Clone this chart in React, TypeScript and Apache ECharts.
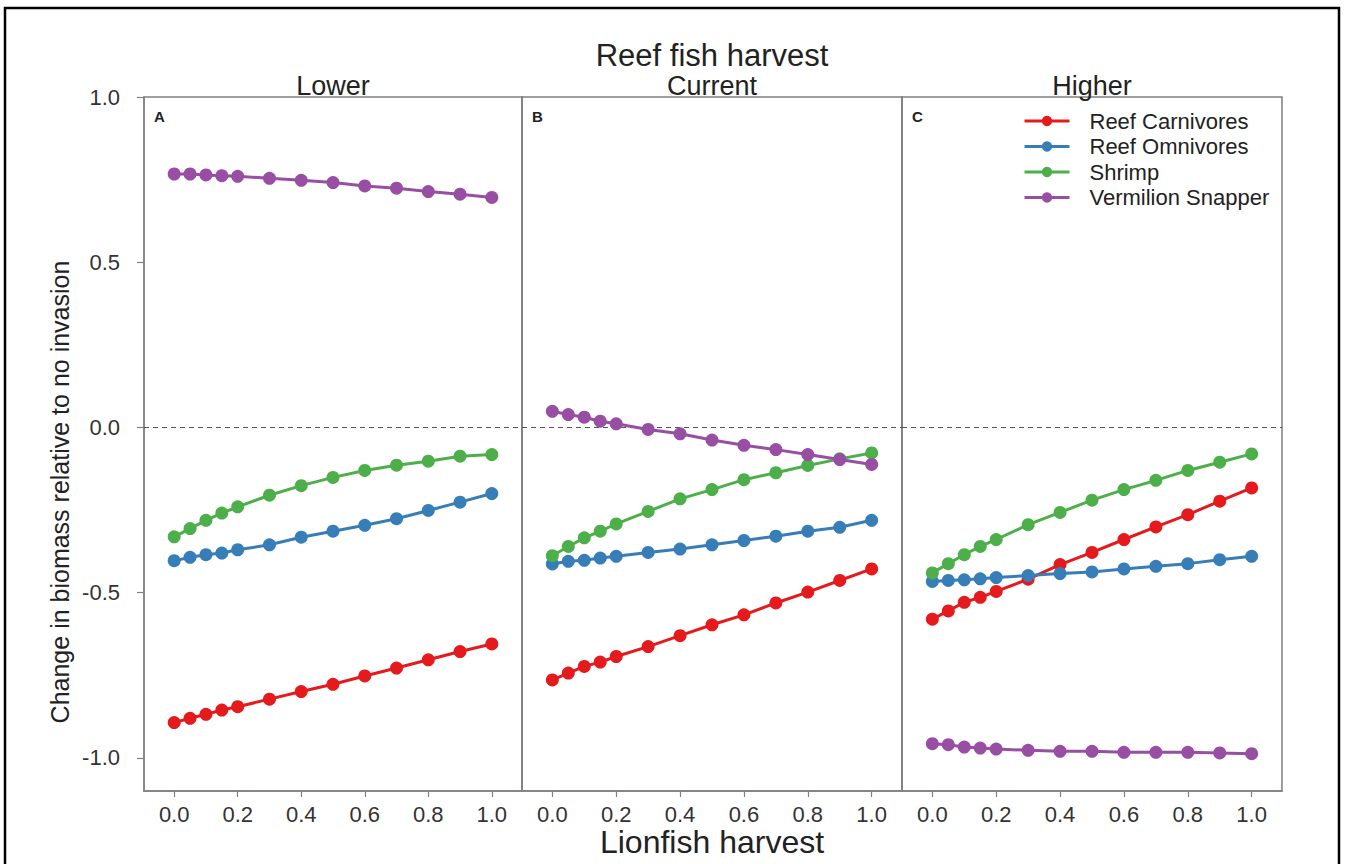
import { useEffect, useRef } from "react";
import * as echarts from "echarts";

const lionfishHarvest = [0, 0.05, 0.1, 0.15, 0.2, 0.3, 0.4, 0.5, 0.6, 0.7, 0.8, 0.9, 1.0];
const xTicks = [0, 0.2, 0.4, 0.6, 0.8, 1.0];
const yTicks = [-1.0, -0.5, 0.0, 0.5, 1.0];

const speciesNames = ["Reef Carnivores", "Reef Omnivores", "Shrimp", "Vermilion Snapper"];
const speciesColors = ["#E41A1C", "#377EB8", "#4DAF4A", "#984EA3"];
const panelTitles = ["Lower", "Current", "Higher"];
const panelLetters = ["A", "B", "C"];

// Panel A: lower reef fish harvest
const carnivoresLower = [-0.893, -0.88, -0.868, -0.855, -0.845, -0.822, -0.799, -0.777, -0.752, -0.728, -0.703, -0.678, -0.655];
const omnivoresLower = [-0.403, -0.393, -0.385, -0.38, -0.37, -0.355, -0.332, -0.314, -0.296, -0.276, -0.251, -0.226, -0.2];
const shrimpLower = [-0.331, -0.306, -0.281, -0.259, -0.24, -0.205, -0.176, -0.151, -0.13, -0.114, -0.102, -0.087, -0.082];
const snapperLower = [0.767, 0.767, 0.764, 0.762, 0.76, 0.754, 0.748, 0.741, 0.731, 0.724, 0.714, 0.706, 0.696];

// Panel B: current reef fish harvest
const carnivoresCurrent = [-0.764, -0.743, -0.723, -0.71, -0.693, -0.663, -0.63, -0.597, -0.567, -0.531, -0.498, -0.463, -0.428];
const omnivoresCurrent = [-0.413, -0.405, -0.402, -0.395, -0.39, -0.378, -0.368, -0.355, -0.342, -0.329, -0.314, -0.302, -0.281];
const shrimpCurrent = [-0.388, -0.36, -0.334, -0.314, -0.292, -0.254, -0.216, -0.188, -0.158, -0.137, -0.115, -0.095, -0.077];
const snapperCurrent = [0.049, 0.039, 0.031, 0.019, 0.011, -0.006, -0.019, -0.038, -0.054, -0.067, -0.082, -0.097, -0.112];

// Panel C: higher reef fish harvest
const carnivoresHigher = [-0.58, -0.555, -0.529, -0.514, -0.496, -0.459, -0.415, -0.378, -0.339, -0.301, -0.264, -0.223, -0.183];
const omnivoresHigher = [-0.466, -0.463, -0.461, -0.458, -0.454, -0.448, -0.442, -0.437, -0.428, -0.42, -0.412, -0.4, -0.39];
const shrimpHigher = [-0.44, -0.412, -0.385, -0.36, -0.339, -0.294, -0.257, -0.22, -0.188, -0.16, -0.13, -0.105, -0.08];
const snapperHigher = [-0.957, -0.96, -0.967, -0.97, -0.973, -0.977, -0.98, -0.98, -0.983, -0.983, -0.983, -0.985, -0.987];

const panels = [
  [carnivoresLower, omnivoresLower, shrimpLower, snapperLower],
  [carnivoresCurrent, omnivoresCurrent, shrimpCurrent, snapperCurrent],
  [carnivoresHigher, omnivoresHigher, shrimpHigher, snapperHigher],
];

const FONT = "Liberation Sans, Arial, sans-serif";
const AXIS_GRAY = "#808080";
const TEXT = "#222";

export default function App() {
  const ref = useRef<HTMLDivElement>(null);

  useEffect(() => {
    if (!ref.current) return;
    const chart = echarts.init(ref.current, null, { renderer: "svg" });

    const gridBoxes = [
      { left: 144, width: 378 },
      { left: 522, width: 380 },
      { left: 902, width: 380 },
    ];
    const top = 97;
    const height = 694;

    const grid = gridBoxes.map((g) => ({
      left: g.left,
      width: g.width,
      top,
      height,
      show: true,
      borderColor: AXIS_GRAY,
      borderWidth: 1.5,
      backgroundColor: "transparent",
      outerBoundsMode: "none",
      containLabel: false,
    }));

    const xAxis = gridBoxes.map((_, i) => ({
      type: "value",
      gridIndex: i,
      min: -0.095,
      max: 1.095,
      splitLine: { show: false },
      axisLine: { show: true, onZero: false, lineStyle: { color: AXIS_GRAY, width: 1.5 } },
      axisTick: { show: true, length: 6, customValues: xTicks, lineStyle: { color: AXIS_GRAY, width: 1.2 } },
      axisLabel: {
        customValues: xTicks,
        formatter: (v: number) => v.toFixed(1),
        fontSize: 22,
        color: "#333",
        margin: 12,
        fontFamily: FONT,
      },
    }));

    const yAxis = gridBoxes.map((_, i) => ({
      type: "value",
      gridIndex: i,
      min: -1.1,
      max: 1.0,
      splitLine: { show: false },
      axisLine: { show: true, onZero: false, lineStyle: { color: AXIS_GRAY, width: 1.5 } },
      axisTick: { show: i === 0, length: 7, customValues: yTicks, lineStyle: { color: AXIS_GRAY, width: 1.2 } },
      axisLabel: {
        show: i === 0,
        customValues: yTicks,
        formatter: (v: number) => v.toFixed(1),
        fontSize: 22,
        color: "#333",
        margin: 24,
        fontFamily: FONT,
      },
    }));

    const series: any[] = [];
    panels.forEach((panel, p) => {
      panel.forEach((vals, s) => {
        series.push({
          type: "line",
          name: speciesNames[s],
          xAxisIndex: p,
          yAxisIndex: p,
          data: lionfishHarvest.map((x, k) => [x, vals[k]]),
          symbol: "circle",
          symbolSize: 13,
          showSymbol: true,
          lineStyle: { color: speciesColors[s], width: 3 },
          itemStyle: { color: speciesColors[s] },
          z: 3 + s,
          markLine:
            s === 0
              ? {
                  silent: true,
                  symbol: ["none", "none"],
                  label: { show: false },
                  lineStyle: { type: [5, 4], color: "#555", width: 1.2 },
                  data: [{ yAxis: 0 }],
                  z: 1,
                }
              : undefined,
        });
      });
    });

    const centerText = (text: string, x: number, y: number, fontSize: number, extra: any = {}) => ({
      type: "text",
      x,
      y,
      ...extra,
      style: {
        text,
        fontSize,
        fontFamily: FONT,
        fill: TEXT,
        align: "center",
        verticalAlign: "middle",
        textAlign: "center",
        textVerticalAlign: "middle",
      },
    });

    const graphic: any[] = [
      {
        type: "rect",
        shape: { x: 5, y: 8, width: 1334, height: 870 },
        style: { fill: "none", stroke: "#000", lineWidth: 2.5 },
        silent: true,
      },
      centerText("Reef fish harvest", 712, 55, 31),
      centerText("Lionfish harvest", 712, 842, 32),
      centerText("Change in biomass relative to no invasion", 60, 492, 25, { rotation: Math.PI / 2 }),
    ];
    gridBoxes.forEach((g, i) => {
      graphic.push(centerText(panelTitles[i], g.left + g.width / 2, 86, 27));
      graphic.push({
        type: "text",
        x: g.left + 10,
        y: 116,
        style: {
          text: panelLetters[i],
          fontSize: 15,
          fontWeight: "bold",
          fontFamily: FONT,
          fill: TEXT,
          align: "left",
          verticalAlign: "middle",
          textAlign: "left",
          textVerticalAlign: "middle",
        },
      });
    });

    chart.setOption({
      animation: false,
      backgroundColor: "#fff",
      grid,
      xAxis,
      yAxis,
      series,
      graphic,
      legend: {
        data: speciesNames,
        orient: "vertical",
        left: 1023,
        top: 110,
        padding: 0,
        itemWidth: 45,
        itemHeight: 13,
        itemGap: 3.5,
        selectedMode: false,
        lineStyle: { width: 3 },
        textStyle: { fontSize: 22, color: TEXT, fontFamily: FONT, lineHeight: 22, padding: [0, 0, 0, 15] },
      },
    });

    return () => chart.dispose();
  }, []);

  return (
    <div
      ref={ref}
      style={{ position: "fixed", left: 0, top: 0, width: 1346, height: 864, background: "#fff" }}
    />
  );
}
